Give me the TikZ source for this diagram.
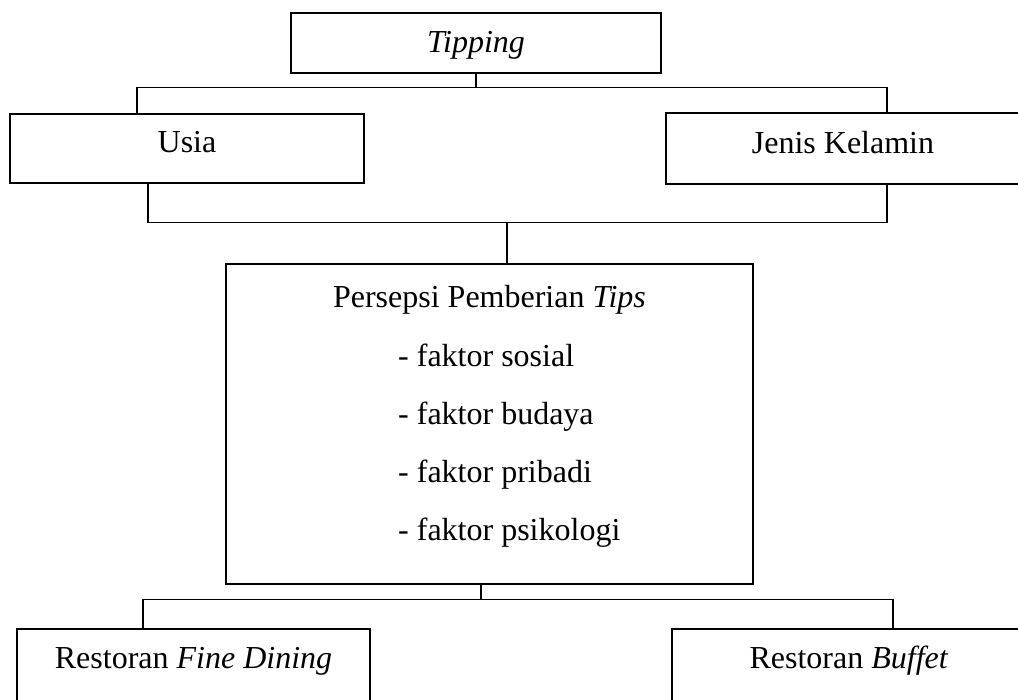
\documentclass[tikz,border=0pt]{standalone}
\usepackage{fontspec}
\setmainfont{Liberation Serif}
\usepackage{tikz}
\usetikzlibrary{positioning, calc}
\tikzset{
  box/.style={rectangle, draw=black, line width=1.2pt, inner sep=0pt, align=center, font=\fontsize{32pt}{38pt}\selectfont},
  item/.style={inner sep=0pt, font=\fontsize{32pt}{38pt}\selectfont},
  link/.style={draw=black, line width=1.2pt},
}
\begin{document}
\begin{tikzpicture}[x=1pt, y=-1pt]
\useasboundingbox (0,0) rectangle (1018,700);
\clip (0,0) rectangle (1018,700);

% top level
\node[box, minimum width=370pt, text height=40pt, text depth=20pt, anchor=base] (tip) at (476,53) {\textit{Tipping}};

% second level
\node[box, minimum width=354pt, text height=39pt, text depth=30pt, anchor=base] (usia) at (187,153) {Usia};
\node[box, minimum width=354pt, text height=41pt, text depth=30pt, anchor=base] (jk)   at (843,154) {Jenis Kelamin};

% middle box
\node[box, minimum width=527pt, text height=44pt, text depth=276pt, anchor=base] (persepsi) at (489.5,308) {Persepsi Pemberian \textit{Tips}};
\foreach \fak [count=\i from 0] in {sosial, budaya, pribadi, psikologi}{
  \node[item, anchor=base west] (fak\i) at (398,{367+57.7*\i}) {- faktor \fak};
}

% bottom level
\node[box, minimum width=353pt, text height=39pt, text depth=35pt, anchor=base] (fine)   at (193.5,668) {Restoran \textit{Fine Dining}};
\node[box, minimum width=354pt, text height=39pt, text depth=35pt, anchor=base] (buffet) at (849,668) {Restoran \textit{Buffet}};

% connectors
\draw[link] (tip.south) -- ++(0,14) coordinate (bus1);
\draw[link] ([xshift=-50pt]usia.north) |- (bus1) -| ([xshift=44pt]jk.north);

\draw[link] ([xshift=17.5pt]persepsi.north) -- ++(0,-41) coordinate (bus2);
\draw[link] ([xshift=-39pt]usia.south) |- (bus2) -| ([xshift=44pt]jk.south);

\draw[link] ([xshift=-8.5pt]persepsi.south) -- ++(0,15) coordinate (bus3);
\draw[link] ([xshift=-50.5pt]fine.north) |- (bus3) -| ([xshift=44pt]buffet.north);
\end{tikzpicture}
\end{document}
